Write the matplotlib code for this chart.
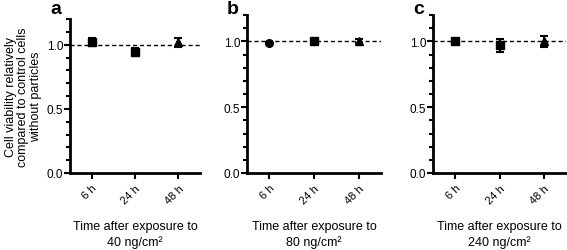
import matplotlib
matplotlib.use("Agg")
import matplotlib.pyplot as plt
from matplotlib.ticker import MultipleLocator, FormatStrFormatter

plt.rcParams['font.family'] = ['Liberation Sans', 'DejaVu Sans']

times = ["6 h", "24 h", "48 h"]
panel_letters = ["a", "b", "c"]
doses = ["40 ng/cm²", "80 ng/cm²", "240 ng/cm²"]
means = [
    [1.02, 0.945, 1.02],
    [0.99, 1.00, 1.00],
    [1.00, 0.97, 1.00],
]
errors = [
    [0.03, 0.03, 0.035],
    [0.005, 0.015, 0.015],
    [0.01, 0.05, 0.04],
]
markers = [
    ["s", "s", "^"],
    ["o", "s", "^"],
    ["s", "s", "^"],
]

fig = plt.figure(figsize=(5.67, 2.51), dpi=100)
W, H = 567, 251
boxes = [
    (70, 200, 20, 174),
    (247, 381, 16, 174),
    (433, 566, 16, 174),
]
for i, (l, r, t, b) in enumerate(boxes):
    ax = fig.add_axes([l / W, 1 - b / H, (r - l) / W, (b - t) / H])
    ax.axhline(1.0, color='black', ls=(0, (3, 2)), lw=1.0, zorder=1)
    for j in range(3):
        ax.errorbar(j, means[i][j], yerr=errors[i][j], fmt=markers[i][j],
                    color='black', ms=5.5, capsize=3, elinewidth=1.5,
                    capthick=1.5, zorder=3)
    ax.set_xlim(-0.5, 2.5)
    ax.set_ylim(0, 1.2)
    ax.set_xticks(range(3))
    ax.set_xticklabels(times, rotation=45, ha='right', rotation_mode='anchor',
                       fontsize=8)
    ax.yaxis.set_major_locator(MultipleLocator(0.5))
    ax.yaxis.set_minor_locator(MultipleLocator(0.1))
    ax.yaxis.set_major_formatter(FormatStrFormatter('%.1f'))
    ax.tick_params(axis='y', labelsize=8.5, width=1.5, length=4, pad=1)
    ax.tick_params(axis='y', which='minor', width=1.5, length=3)
    ax.tick_params(axis='x', width=1.5, length=4, pad=3)
    for s in ['top', 'right']:
        ax.spines[s].set_visible(False)
    for s in ['left', 'bottom']:
        ax.spines[s].set_linewidth(2)
    ax.set_xlabel("Time after exposure to\n" + doses[i], fontsize=9,
                  labelpad=11, linespacing=1.3)
    fig.text((l - 14) / W, 1 - 1 / H, panel_letters[i], fontsize=14,
             fontweight='bold', ha='center', va='top')
    if i == 0:
        ax.set_ylabel("Cell viability relatively\ncompared to control cells\nwithout particles",
                      fontsize=9, labelpad=3, linespacing=1.1)

fig.savefig("out.png", dpi=100)
